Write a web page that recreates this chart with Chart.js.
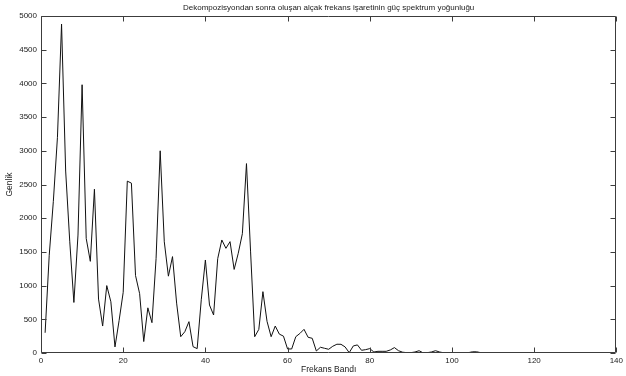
<!DOCTYPE html>
<html><head><meta charset="utf-8">
<script src="https://cdn.jsdelivr.net/npm/chart.js@4"></script>
<style>html,body{margin:0;padding:0;background:#fff}#wrap{width:626px;height:376px;position:relative}</style>
</head><body><div id="wrap"><canvas id="c" width="626" height="376"></canvas></div>
<script>
const chartTitle = "Dekompozisyondan sonra oluşan alçak frekans işaretinin güç spektrum yoğunluğu";
const xAxisTitle = "Frekans Bandı";
const yAxisTitle = "Genlik";

const frequencyBands = [
  1,2,3,4,5,6,7,8,9,10,11,12,13,14,15,16,17,18,19,20,
  21,22,23,24,25,26,27,28,29,30,31,32,33,34,35,36,37,38,39,40,
  41,42,43,44,45,46,47,48,49,50,51,52,53,54,55,56,57,58,59,60,
  61,62,63,64,65,66,67,68,69,70,71,72,73,74,75,76,77,78,79,80,
  81,82,83,84,85,86,87,88,89,90,91,92,93,94,95,96,97,98,99,100,
  101,102,103,104,105,106,107,108,109,110,111,112,113,114,115,116,117,118,119,120,
  121,122,123,124,125,126,127,128
];
const amplitudes = [
  300,1450,2250,3200,4880,2700,1650,750,1750,3980,
  1700,1360,2430,800,400,1000,760,90,480,900,
  2550,2520,1150,880,170,670,450,1400,3000,1650,
  1140,1430,740,242,316,465,94,65,790,1380,
  712,564,1400,1677,1553,1652,1240,1480,1770,2810,
  1500,242,350,910,470,242,400,280,250,60,
  60,242,290,351,233,218,30,85,70,55,
  100,130,129,90,5,105,120,40,50,65,
  15,25,25,25,45,80,34,12,5,5,
  15,34,2,5,15,34,15,3,2,2,
  2,2,2,5,18,18,5,2,2,2,
  2,2,2,2,2,2,2,2,2,2,
  2,2,2,2,2,2,2,2
];
const xTickValues = [0,20,40,60,80,100,120,140];
const yTickValues = [0,500,1000,1500,2000,2500,3000,3500,4000,4500,5000];

const FONT = "'Liberation Sans', Arial, sans-serif";
const TEXT_COLOR = '#1a1a1a';
const AXIS_COLOR = '#3c3c3c';

const boxPlugin = {
  id: 'matlabBox',
  afterDatasetsDraw(chart) {
    const {ctx, chartArea: a, scales: {x, y}} = chart;
    const L = Math.round(a.left) + 0.5, R = Math.round(a.right) - 0.5;
    const T = Math.round(a.top) + 0.5, B = Math.round(a.bottom) - 0.5;
    const len = 5;
    ctx.save();
    ctx.strokeStyle = AXIS_COLOR;
    ctx.lineWidth = 1;
    ctx.beginPath();
    ctx.rect(L, T, R - L, B - T);
    x.ticks.forEach(t => {
      const px = Math.round(x.getPixelForValue(t.value)) + 0.5;
      ctx.moveTo(px, B); ctx.lineTo(px, B - len);
      ctx.moveTo(px, T); ctx.lineTo(px, T + len);
    });
    y.ticks.forEach(t => {
      const py = Math.round(y.getPixelForValue(t.value)) + 0.5;
      ctx.moveTo(L, py); ctx.lineTo(L + len, py);
      ctx.moveTo(R, py); ctx.lineTo(R - len, py);
    });
    ctx.stroke();
    ctx.restore();
  }
};

new Chart(document.getElementById('c'), {
  type: 'line',
  data: {
    datasets: [{
      data: frequencyBands.map((f, i) => ({x: f, y: amplitudes[i]})),
      borderColor: '#111',
      borderWidth: 1,
      pointRadius: 0,
      tension: 0,
      fill: false
    }]
  },
  options: {
    responsive: false,
    animation: false,
    devicePixelRatio: 1,
    layout: {padding: {left: 0, right: 1, top: 0, bottom: 0}},
    plugins: {
      legend: {display: false},
      tooltip: {enabled: false},
      title: {
        display: true,
        text: chartTitle,
        fullSize: false,
        color: TEXT_COLOR,
        font: {family: FONT, size: 8, weight: 'normal', lineHeight: 1.2},
        padding: {top: 3, bottom: 3.4}
      }
    },
    scales: {
      x: {
        type: 'linear',
        min: 0, max: 140,
        afterBuildTicks: s => { s.ticks = xTickValues.map(v => ({value: v})); },
        afterFit: s => { s.height = 23; },
        grid: {display: false, drawTicks: false},
        border: {display: false},
        ticks: {color: TEXT_COLOR, font: {family: FONT, size: 8}, padding: 3, maxRotation: 0, autoSkip: false,
                callback: v => String(v)},
        title: {display: true, text: xAxisTitle, color: TEXT_COLOR, font: {family: FONT, size: 8.5, lineHeight: 1.2}, padding: {top: 0, bottom: 1}}
      },
      y: {
        type: 'linear',
        min: 0, max: 5000,
        afterBuildTicks: s => { s.ticks = yTickValues.map(v => ({value: v})); },
        afterFit: s => { s.width = 41; },
        grid: {display: false, drawTicks: false},
        border: {display: false},
        ticks: {color: TEXT_COLOR, font: {family: FONT, size: 8}, padding: 4, autoSkip: false,
                callback: v => String(v)},
        title: {display: true, text: yAxisTitle, color: TEXT_COLOR, font: {family: FONT, size: 8.5, lineHeight: 1.2}, padding: {top: 5, bottom: 0}}
      }
    }
  },
  plugins: [boxPlugin]
});
</script>
</body></html>
